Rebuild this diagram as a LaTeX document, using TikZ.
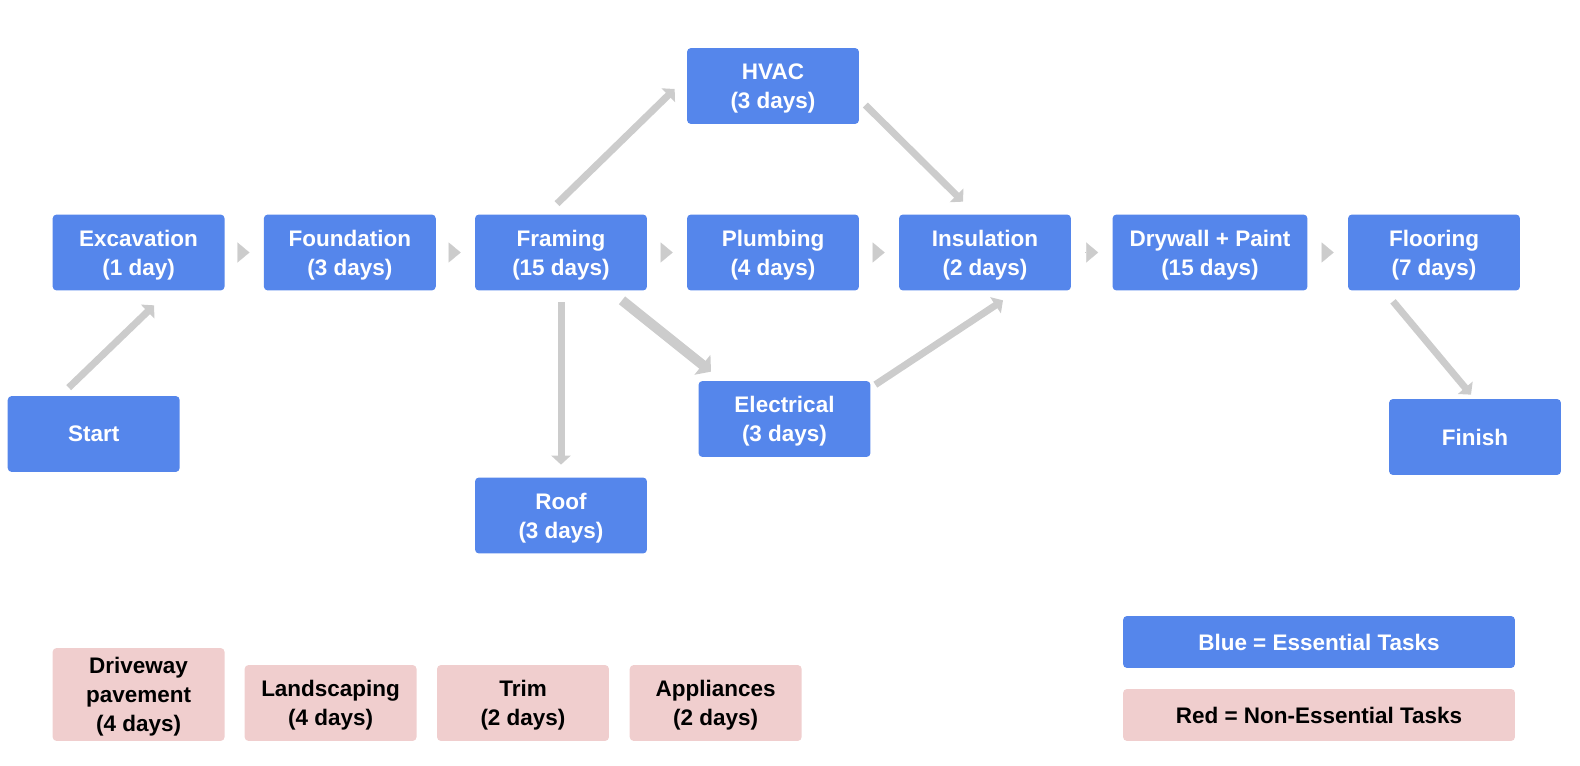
\documentclass[tikz,border=0pt]{standalone}
\usepackage{fontspec}
\setmainfont{Liberation Sans}
\usetikzlibrary{arrows.meta,calc}
\definecolor{taskblue}{HTML}{5586EB}
\definecolor{extrared}{HTML}{F0CECE}
\definecolor{linkgray}{HTML}{CCCCCC}
\begin{document}
\begin{tikzpicture}[x=0.02cm,y=-0.02cm,
        box/.style={rounded corners=0.08cm,minimum width=3.44cm,minimum height=1.52cm,inner sep=0pt,align=center,font=\fontsize{12.8}{16.5}\selectfont\bfseries},
        lines/.style={text depth=-2.6pt},
        task/.style={box,fill=taskblue,text=white},
        extra/.style={box,lines,fill=extrared,text=black},
        link/.style={draw=linkgray,line width=0.14cm,-{Triangle[length=0.18cm,width=0.38cm]}},
        biglink/.style={draw=linkgray,line width=0.2cm,-{Triangle[length=0.22cm,width=0.5cm]}},
        nexttip/.style={draw=linkgray,line width=0.1pt,-{Triangle[length=0.24cm,width=0.4cm]},shorten <=0.28cm,shorten >=0.28cm}]
    \useasboundingbox (0,0) rectangle (1580,766);
    % essential tasks
    \node[task] (start) at (93.7,434) {Start};
    \node[task,lines] (excav) at (138.6,252.5) {Excavation\\(1 day)};
    \node[task,lines] (found) at (349.8,252.5) {Foundation\\(3 days)};
    \node[task,lines] (frame) at (561,252.5) {Framing\\(15 days)};
    \node[task,lines] (plumb) at (773,252.5) {Plumbing\\(4 days)};
    \node[task,lines] (insul) at (985,252.5) {Insulation\\(2 days)};
    \node[task,lines,minimum width=3.9cm] (dryw) at (1210,252.5) {Drywall + Paint\\(15 days)};
    \node[task,lines] (floor) at (1434,252.5) {Flooring\\(7 days)};
    \node[task,lines] (hvac) at (773,86) {HVAC\\(3 days)};
    \node[task,lines] (elec) at (784.5,419) {Electrical\\(3 days)};
    \node[task,lines] (roof) at (561,515.5) {Roof\\(3 days)};
    \node[task] (finish) at (1475,437) {Finish};
    % non-essential tasks
    \node[extra,minimum height=1.86cm] (drive) at (138.6,694.5) {Driveway\\pavement\\(4 days)};
    \node[extra] (land) at (330.6,703) {Landscaping\\(4 days)};
    \node[extra] (trim) at (523,703) {Trim\\(2 days)};
    \node[extra] (appl) at (715.7,703) {Appliances\\(2 days)};
    % legend
    \node[task,minimum width=7.84cm,minimum height=1.04cm] (keyblue) at (1319,642) {Blue = Essential Tasks};
    \node[box,fill=extrared,minimum width=7.84cm,minimum height=1.04cm] (keyred) at (1319,715) {Red = Non-Essential Tasks};
    % links
    \draw[nexttip] (excav.east) -- (found.west);
    \draw[nexttip] (found.east) -- (frame.west);
    \draw[nexttip] (frame.east) -- (plumb.west);
    \draw[nexttip] (plumb.east) -- (insul.west);
    \draw[nexttip] (insul.east) -- (dryw.west);
    \draw[nexttip] (dryw.east) -- (floor.west);
    \draw[link] ($(start.north)+(-25,-8)$) -- ($(excav.south)+(15.5,14.5)$);
    \draw[link] ($(frame.north)+(-4,-10.5)$) -- ($(hvac.west)+(-12,3)$);
    \draw[link] ($(hvac.east)+(6,19)$) -- ($(insul.north)+(-22,-12.5)$);
    \draw[biglink] ($(frame.south)+(61,9.5)$) -- ($(elec.north)+(-73.5,-9)$);
    \draw[link] ($(elec.north east)+(4.5,4)$) -- ($(insul.south)+(18,9.5)$);
    \draw[link] ($(frame.south)+(0,11.5)$) -- ($(roof.north)+(0,-12.5)$);
    \draw[link] ($(floor.south)+(-41,10.5)$) -- ($(finish.north)+(-4,-4)$);
\end{tikzpicture}
\end{document}
